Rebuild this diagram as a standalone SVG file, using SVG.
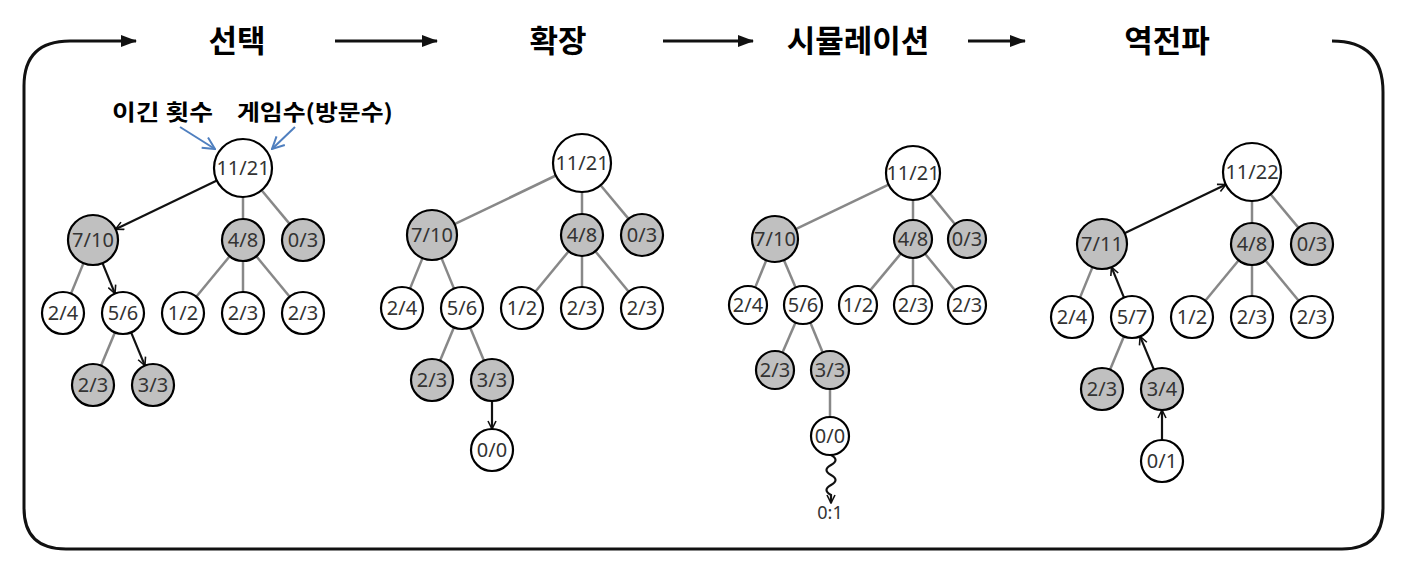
<svg xmlns="http://www.w3.org/2000/svg" width="1412" height="564" viewBox="0 0 1412 564">
<style>
.frame{fill:none;stroke:#111;stroke-width:3}
.hd{font-family:"Noto Sans CJK KR","Noto Sans",sans-serif;font-weight:700;font-size:31px;fill:#000;text-anchor:middle;dominant-baseline:central}
.lb{font-family:"Noto Sans CJK KR","Noto Sans",sans-serif;font-weight:700;font-size:22px;fill:#000;text-anchor:middle;dominant-baseline:central}
.hl{fill:none;stroke:#111;stroke-width:3}
.w{fill:#fff;stroke:#000;stroke-width:2.2}
.g{fill:#c0c0c0;stroke:#000;stroke-width:2.2}
.t{font-family:"Noto Sans","DejaVu Sans",sans-serif;font-size:20px;fill:#333;text-anchor:middle}
.e{stroke:#888;stroke-width:2.5;fill:none}
.a{stroke:#111;stroke-width:2.2;fill:none;marker-end:url(#v)}
.blue{stroke:#4f7fbf;stroke-width:2;fill:none;marker-end:url(#bv)}
</style>
<defs>
<marker id="tri" viewBox="0 0 16 12" refX="15" refY="6" markerWidth="16" markerHeight="12" markerUnits="userSpaceOnUse" orient="auto">
<path d="M0,0 L16,6 L0,12 z" fill="#111"/>
</marker>
<marker id="v" viewBox="0 0 10 10" refX="9" refY="5" markerWidth="10" markerHeight="10" markerUnits="userSpaceOnUse" orient="auto">
<path d="M1,1 L9,5 L1,9" fill="none" stroke="#111" stroke-width="1.6"/>
</marker>
<marker id="bv" viewBox="0 0 14 14" refX="13" refY="7" markerWidth="14" markerHeight="14" markerUnits="userSpaceOnUse" orient="auto">
<path d="M1,1 L13,7 L1,13" fill="none" stroke="#4f7fbf" stroke-width="2"/>
</marker>
</defs>
<rect width="1412" height="564" fill="#fff"/>

<g id="frame">
<path class="frame" d="M1332,41 Q1383,41 1383,92 L1383,508 Q1383,549 1342,549 L66,549 Q24,549 24,508 L24,86 Q24,41 70,41 L136,41" marker-end="url(#tri)"/>
</g>

<g id="headings">
<text class="hd" x="237" y="38">선택</text>
<text class="hd" x="558" y="38">확장</text>
<text class="hd" x="858" y="38">시뮬레이션</text>
<text class="hd" x="1167" y="38">역전파</text>
</g>

<g id="step-arrows">
<line class="hl" x1="335" y1="41" x2="437" y2="41" marker-end="url(#tri)"/>
<line class="hl" x1="663" y1="41" x2="753" y2="41" marker-end="url(#tri)"/>
<line class="hl" x1="968" y1="41" x2="1025" y2="41" marker-end="url(#tri)"/>
</g>

<g id="labels">
<text class="lb" x="162.5" y="110" textLength="101" lengthAdjust="spacingAndGlyphs">이긴 횟수</text>
<text class="lb" x="315" y="110" textLength="156" lengthAdjust="spacingAndGlyphs">게임수(방문수)</text>
<line class="blue" x1="180" y1="127" x2="215" y2="149"/>
<line class="blue" x1="295" y1="127" x2="272" y2="149"/>
</g>

<g id="connectors">
<g id="c-select">
<line class="a" x1="216.9" y1="180.5" x2="115.5" y2="229.2"/>
<line class="e" x1="243" y1="197" x2="243" y2="219"/>
<line class="e" x1="261.6" y1="190.3" x2="289.6" y2="223.9"/>
<line class="e" x1="83.5" y1="263.1" x2="71" y2="293.6"/>
<line class="a" x1="102.5" y1="263.1" x2="115" y2="293.6"/>
<line class="e" x1="229.7" y1="256.2" x2="196.3" y2="296.8"/>
<line class="e" x1="243" y1="261" x2="243" y2="292"/>
<line class="e" x1="256.3" y1="256.2" x2="289.7" y2="296.8"/>
<line class="e" x1="114.9" y1="332.4" x2="101.1" y2="365.6"/>
<line class="a" x1="131.1" y1="332.4" x2="144.9" y2="365.6"/>
</g>
<g id="c-expand" transform="translate(339,-5)">
<line class="e" x1="216.9" y1="180.5" x2="115.5" y2="229.2"/>
<line class="e" x1="243" y1="197" x2="243" y2="219"/>
<line class="e" x1="261.6" y1="190.3" x2="289.6" y2="223.9"/>
<line class="e" x1="83.5" y1="263.1" x2="71" y2="293.6"/>
<line class="e" x1="102.5" y1="263.1" x2="115" y2="293.6"/>
<line class="e" x1="229.7" y1="256.2" x2="196.3" y2="296.8"/>
<line class="e" x1="243" y1="261" x2="243" y2="292"/>
<line class="e" x1="256.3" y1="256.2" x2="289.7" y2="296.8"/>
<line class="e" x1="114.9" y1="332.4" x2="101.1" y2="365.6"/>
<line class="e" x1="131.1" y1="332.4" x2="144.9" y2="365.6"/>
<line class="a" x1="153" y1="406" x2="153" y2="434"/>
</g>
<g id="c-sim">
<line class="e" x1="888.6" y1="184.6" x2="795.7" y2="229.1"/>
<line class="e" x1="913" y1="200" x2="913" y2="220"/>
<line class="e" x1="930.1" y1="193.9" x2="955" y2="224.3"/>
<line class="e" x1="766.3" y1="260.3" x2="755.2" y2="287.4"/>
<line class="e" x1="784" y1="260.2" x2="795.6" y2="287.5"/>
<line class="e" x1="900.8" y1="253.6" x2="870.2" y2="290.4"/>
<line class="e" x1="913" y1="258" x2="913" y2="286"/>
<line class="e" x1="925" y1="253.7" x2="955" y2="290.3"/>
<line class="e" x1="795.5" y1="322.4" x2="782.5" y2="352.6"/>
<line class="e" x1="810.3" y1="322.5" x2="822.7" y2="352.5"/>
<line class="e" x1="830" y1="389" x2="830" y2="417"/>
<path class="a" d="M831,455 q9,5 0,10 t0,10 t0,10 t0,10 l0,8"/>
</g>
<g id="c-backprop" transform="translate(1009,4)">
<line class="a" x1="115.5" y1="229.2" x2="216.9" y2="180.5"/>
<line class="e" x1="243" y1="197" x2="243" y2="219"/>
<line class="e" x1="261.6" y1="190.3" x2="289.6" y2="223.9"/>
<line class="e" x1="83.5" y1="263.1" x2="71" y2="293.6"/>
<line class="a" x1="115" y1="293.6" x2="102.5" y2="263.1"/>
<line class="e" x1="229.7" y1="256.2" x2="196.3" y2="296.8"/>
<line class="e" x1="243" y1="261" x2="243" y2="292"/>
<line class="e" x1="256.3" y1="256.2" x2="289.7" y2="296.8"/>
<line class="e" x1="114.9" y1="332.4" x2="101.1" y2="365.6"/>
<line class="a" x1="144.9" y1="365.6" x2="131.1" y2="332.4"/>
<line class="a" x1="153" y1="436" x2="153" y2="406"/>
</g>
</g>

<g id="tree-select">
<g id="s-root"><circle class="w" cx="243" cy="168" r="29"/><text class="t" x="243" y="175">11/21</text></g>
<g id="s-a"><circle class="g" cx="93" cy="240" r="25"/><text class="t" x="93" y="247">7/10</text></g>
<g id="s-b"><circle class="g" cx="243" cy="240" r="21"/><text class="t" x="243" y="247">4/8</text></g>
<g id="s-c"><circle class="g" cx="303" cy="240" r="21"/><text class="t" x="303" y="247">0/3</text></g>
<g id="s-d"><circle class="w" cx="63" cy="313" r="21"/><text class="t" x="63" y="320">2/4</text></g>
<g id="s-e"><circle class="w" cx="123" cy="313" r="21"/><text class="t" x="123" y="320">5/6</text></g>
<g id="s-f"><circle class="w" cx="183" cy="313" r="21"/><text class="t" x="183" y="320">1/2</text></g>
<g id="s-g"><circle class="w" cx="243" cy="313" r="21"/><text class="t" x="243" y="320">2/3</text></g>
<g id="s-h"><circle class="w" cx="303" cy="313" r="21"/><text class="t" x="303" y="320">2/3</text></g>
<g id="s-i"><circle class="g" cx="93" cy="385" r="21"/><text class="t" x="93" y="392">2/3</text></g>
<g id="s-j"><circle class="g" cx="153" cy="385" r="21"/><text class="t" x="153" y="392">3/3</text></g>
</g>

<g id="tree-expand" transform="translate(339,-5)">
<g id="x-root"><circle class="w" cx="243" cy="168" r="29"/><text class="t" x="243" y="175">11/21</text></g>
<g id="x-a"><circle class="g" cx="93" cy="240" r="25"/><text class="t" x="93" y="247">7/10</text></g>
<g id="x-b"><circle class="g" cx="243" cy="240" r="21"/><text class="t" x="243" y="247">4/8</text></g>
<g id="x-c"><circle class="g" cx="303" cy="240" r="21"/><text class="t" x="303" y="247">0/3</text></g>
<g id="x-d"><circle class="w" cx="63" cy="313" r="21"/><text class="t" x="63" y="320">2/4</text></g>
<g id="x-e"><circle class="w" cx="123" cy="313" r="21"/><text class="t" x="123" y="320">5/6</text></g>
<g id="x-f"><circle class="w" cx="183" cy="313" r="21"/><text class="t" x="183" y="320">1/2</text></g>
<g id="x-g"><circle class="w" cx="243" cy="313" r="21"/><text class="t" x="243" y="320">2/3</text></g>
<g id="x-h"><circle class="w" cx="303" cy="313" r="21"/><text class="t" x="303" y="320">2/3</text></g>
<g id="x-i"><circle class="g" cx="93" cy="385" r="21"/><text class="t" x="93" y="392">2/3</text></g>
<g id="x-j"><circle class="g" cx="153" cy="385" r="21"/><text class="t" x="153" y="392">3/3</text></g>
<g id="x-k"><circle class="w" cx="153" cy="455" r="21"/><text class="t" x="153" y="462">0/0</text></g>
</g>

<g id="tree-sim">
<g id="m-root"><circle class="w" cx="913" cy="173" r="27"/><text class="t" x="913" y="180">11/21</text></g>
<g id="m-a"><circle class="g" cx="775" cy="239" r="23"/><text class="t" x="775" y="246">7/10</text></g>
<g id="m-b"><circle class="g" cx="913" cy="239" r="19"/><text class="t" x="913" y="246">4/8</text></g>
<g id="m-c"><circle class="g" cx="967" cy="239" r="19"/><text class="t" x="967" y="246">0/3</text></g>
<g id="m-d"><circle class="w" cx="748" cy="305" r="19"/><text class="t" x="748" y="312">2/4</text></g>
<g id="m-e"><circle class="w" cx="803" cy="305" r="19"/><text class="t" x="803" y="312">5/6</text></g>
<g id="m-f"><circle class="w" cx="858" cy="305" r="19"/><text class="t" x="858" y="312">1/2</text></g>
<g id="m-g"><circle class="w" cx="913" cy="305" r="19"/><text class="t" x="913" y="312">2/3</text></g>
<g id="m-h"><circle class="w" cx="967" cy="305" r="19"/><text class="t" x="967" y="312">2/3</text></g>
<g id="m-i"><circle class="g" cx="775" cy="370" r="19"/><text class="t" x="775" y="377">2/3</text></g>
<g id="m-j"><circle class="g" cx="830" cy="370" r="19"/><text class="t" x="830" y="377">3/3</text></g>
<g id="m-k"><circle class="w" cx="830" cy="436" r="19"/><text class="t" x="830" y="443">0/0</text></g>
<g id="m-result"><text class="t" x="830" y="519" style="font-size:18px">0:1</text></g>
</g>

<g id="tree-backprop" transform="translate(1009,4)">
<g id="b-root"><circle class="w" cx="243" cy="168" r="29"/><text class="t" x="243" y="175">11/22</text></g>
<g id="b-a"><circle class="g" cx="93" cy="240" r="25"/><text class="t" x="93" y="247">7/11</text></g>
<g id="b-b"><circle class="g" cx="243" cy="240" r="21"/><text class="t" x="243" y="247">4/8</text></g>
<g id="b-c"><circle class="g" cx="303" cy="240" r="21"/><text class="t" x="303" y="247">0/3</text></g>
<g id="b-d"><circle class="w" cx="63" cy="313" r="21"/><text class="t" x="63" y="320">2/4</text></g>
<g id="b-e"><circle class="w" cx="123" cy="313" r="21"/><text class="t" x="123" y="320">5/7</text></g>
<g id="b-f"><circle class="w" cx="183" cy="313" r="21"/><text class="t" x="183" y="320">1/2</text></g>
<g id="b-g"><circle class="w" cx="243" cy="313" r="21"/><text class="t" x="243" y="320">2/3</text></g>
<g id="b-h"><circle class="w" cx="303" cy="313" r="21"/><text class="t" x="303" y="320">2/3</text></g>
<g id="b-i"><circle class="g" cx="93" cy="385" r="21"/><text class="t" x="93" y="392">2/3</text></g>
<g id="b-j"><circle class="g" cx="153" cy="385" r="21"/><text class="t" x="153" y="392">3/4</text></g>
<g id="b-k"><circle class="w" cx="153" cy="457" r="21"/><text class="t" x="153" y="464">0/1</text></g>
</g>
</svg>
